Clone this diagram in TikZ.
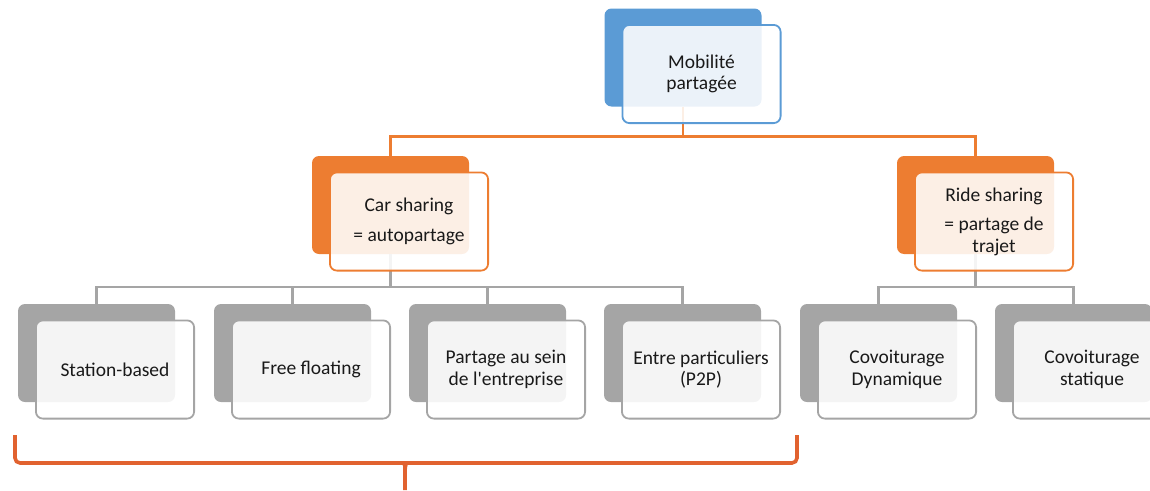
\documentclass[tikz,border=0pt]{standalone}
\usepackage{fontspec}
\setmainfont{Carlito}[Ligatures=TeXOff]
\usepackage{tikz}
\usetikzlibrary{positioning}

\definecolor{boxblue}{HTML}{5B9BD5}
\definecolor{boxorange}{HTML}{ED7D31}
\definecolor{boxgray}{HTML}{A5A5A5}
\definecolor{bracecol}{HTML}{E1622F}

\begin{document}
\begin{tikzpicture}[x=1pt,y=-1pt,
  back/.style={fill=#1, rounded corners=7pt, minimum width=157pt, minimum height=98pt, inner sep=0pt, outer sep=0pt},
  front/.style={draw=#1, line width=1.8pt, fill=white, fill opacity=0.88, text opacity=1, rounded corners=7pt,
    minimum width=158.2pt, minimum height=98.2pt, inner sep=2pt, align=center, text=black!90,
    font=\fontsize{19.5}{21.5}\selectfont},
  link/.style={draw=#1, line width=2.2pt},
  bracket/.style={draw=bracecol, line width=3.6pt}]
\useasboundingbox (0,0) rectangle (1150,490);

% back plates
\node[back=boxblue] (mob-b) at (683,57.5) {};
\node[back=boxorange] (car-b) at (390.5,205) {};
\node[back=boxorange] (ride-b) at (975.5,205) {};
\node[back=boxgray] (stat-b) at (96.5,353) {};
\node[back=boxgray] (free-b) at (292.5,353) {};
\node[back=boxgray] (entr-b) at (487.5,353) {};
\node[back=boxgray] (p2p-b) at (682.5,353) {};
\node[back=boxgray] (dyn-b) at (878.5,353) {};
\node[back=boxgray] (stq-b) at (1073.5,353) {};

% links
\draw[link=boxorange] (mob-b.south) -- ++(0,30) -| (car-b.north);
\draw[link=boxorange] (mob-b.south) -- ++(0,30) -| (ride-b.north);
\foreach \n in {stat,free,entr,p2p}
  \draw[link=boxgray] (car-b.south) -- ++(0,33) -| (\n-b.north);
\foreach \n in {dyn,stq}
  \draw[link=boxgray] (ride-b.south) -- ++(0,33) -| (\n-b.north);

% front cards
\node[front=boxblue] (mob) at ([shift={(18.5,16.5)}]mob-b.center) {Mobilité\\partagée};
\node[front=boxorange] (car) at ([shift={(18.5,16.5)}]car-b.center) {Car sharing\\[8pt]= autopartage};
\node[front=boxorange] (ride) at ([shift={(18.5,16.5)}]ride-b.center) {Ride sharing\\[8pt]= partage de\\trajet};
\node[front=boxgray] (stat) at ([shift={(18.5,16.5)}]stat-b.center) {Station-based};
\node[front=boxgray] (free) at ([shift={(18.5,16.5)}]free-b.center) {Free floating};
\node[front=boxgray] (entr) at ([shift={(18.5,16.5)}]entr-b.center) {Partage au sein\\de l'entreprise};
\node[front=boxgray] (p2p) at ([shift={(18.5,16.5)}]p2p-b.center) {Entre particuliers\\(P2P)};
\node[front=boxgray] (dyn) at ([shift={(18.5,16.5)}]dyn-b.center) {Covoiturage\\Dynamique};
\node[front=boxgray] (stq) at ([shift={(18.5,16.5)}]stq-b.center) {Covoiturage\\statique};

% bracket under the car sharing group
\coordinate (br-l) at (15,435);
\coordinate (br-r) at (797,435);
\coordinate (br-tip) at (405,490);
\draw[bracket, rounded corners=5pt] (br-l) |- (399,463) .. controls (403,463) and (405,465) .. (405,471) -- (br-tip);
\draw[bracket, rounded corners=5pt] (br-r) |- (411,463) .. controls (407,463) and (405,465) .. (405,471);
\end{tikzpicture}
\end{document}
